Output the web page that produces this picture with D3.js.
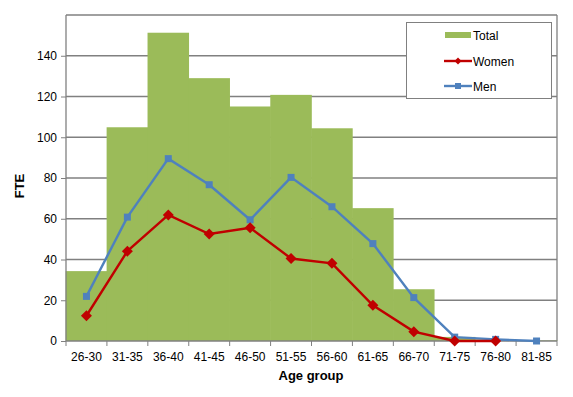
<!DOCTYPE html>
<html>
<head>
<meta charset="utf-8">
<script src="https://cdn.jsdelivr.net/npm/d3@7"></script>
<style>
  html,body{margin:0;padding:0;background:#fff}
  svg{display:block;font-family:'Liberation Sans',Arial,sans-serif}
</style>
</head>
<body>
<svg id="chart" width="573" height="397"></svg>
<script>
const ageGroups = ['26-30','31-35','36-40','41-45','46-50','51-55','56-60','61-65','66-70','71-75','76-80','81-85'];
const totalFte = [34.3, 104.9, 151.3, 129, 115.1, 120.8, 104.4, 65.2, 25.4, 2, 0.8, 0.3];
const womenFte = [12.4, 44.1, 61.9, 52.5, 55.6, 40.5, 38.1, 17.5, 4.6, 0, 0, null];
const menFte = [21.9, 60.8, 89.5, 76.7, 59.5, 80.3, 65.9, 47.8, 21.3, 1.9, 0.8, 0];
const yTicks = [0, 20, 40, 60, 80, 100, 120, 140];

const svg = d3.select('#chart');
const m = { left: 66, right: 557, top: 15, bottom: 341 };

const x = d3.scaleBand().domain(ageGroups).range([m.left, m.right]).padding(0);
const y = d3.scaleLinear().domain([0, 160]).range([m.bottom, m.top]);

// gridlines
svg.append('g').selectAll('line').data(yTicks.slice(1).concat([160])).enter().append('line')
  .attr('x1', m.left).attr('x2', m.right)
  .attr('y1', d => y(d)).attr('y2', d => y(d))
  .attr('stroke', '#808080').attr('stroke-width', 1.3);

// right border
svg.append('line').attr('x1', m.right).attr('x2', m.right).attr('y1', m.top).attr('y2', m.bottom)
  .attr('stroke', '#808080').attr('stroke-width', 1.3);

// total bars (no gap, drawn as one stepped block)
svg.append('g').selectAll('rect').data(totalFte).enter().append('rect')
  .attr('x', (d, i) => x(ageGroups[i]) - 0.3)
  .attr('y', d => y(d))
  .attr('width', x.bandwidth() + 0.6)
  .attr('height', d => y(0) - y(d))
  .attr('fill', '#9BBB59');

// y axis
const yAxis = svg.append('g').attr('transform', `translate(${m.left},0)`)
  .call(d3.axisLeft(y).tickValues(yTicks).tickSize(5).tickPadding(4));
yAxis.select('.domain').attr('stroke', '#808080').attr('stroke-width', 1.3)
  .attr('d', `M0,${m.top}V${m.bottom}`);
yAxis.selectAll('.tick line').attr('stroke', '#808080');
yAxis.selectAll('text').attr('fill', '#000').style('font-size', '12px').style('font-family', "'Liberation Sans',Arial,sans-serif");

// x axis
const xAxis = svg.append('g').attr('transform', `translate(0,${m.bottom})`)
  .call(d3.axisBottom(x).tickSize(0).tickPadding(11));
xAxis.select('.domain').attr('stroke', '#808080').attr('stroke-width', 1.3)
  .attr('d', `M${m.left},0H${m.right}`);
xAxis.selectAll('text').attr('fill', '#000').style('font-size', '12px').style('font-family', "'Liberation Sans',Arial,sans-serif");
svg.append('g').selectAll('line').data(ageGroups.concat(['end'])).enter().append('line')
  .attr('x1', (d, i) => m.left + i * x.bandwidth()).attr('x2', (d, i) => m.left + i * x.bandwidth())
  .attr('y1', m.bottom).attr('y2', m.bottom + 5)
  .attr('stroke', '#808080').attr('stroke-width', 1);

const cx = i => x(ageGroups[i]) + x.bandwidth() / 2;

// men line
const menPts = menFte.map((v, i) => ({ v, i })).filter(p => p.v != null);
svg.append('path').datum(menPts)
  .attr('d', d3.line().x(p => cx(p.i)).y(p => y(p.v)))
  .attr('fill', 'none').attr('stroke', '#4F81BD').attr('stroke-width', 2.4);
svg.append('g').selectAll('rect').data(menPts).enter().append('rect')
  .attr('x', p => cx(p.i) - 3.5).attr('y', p => y(p.v) - 3.5)
  .attr('width', 7).attr('height', 7).attr('fill', '#4F81BD');

// women line
const womenPts = womenFte.map((v, i) => ({ v, i })).filter(p => p.v != null);
svg.append('path').datum(womenPts)
  .attr('d', d3.line().x(p => cx(p.i)).y(p => y(p.v)))
  .attr('fill', 'none').attr('stroke', '#C00000').attr('stroke-width', 2.4);
svg.append('g').selectAll('path').data(womenPts).enter().append('path')
  .attr('transform', p => `translate(${cx(p.i)},${y(p.v)})`)
  .attr('d', 'M0,-5.5L5.5,0L0,5.5L-5.5,0Z').attr('fill', '#C00000');

// axis titles
svg.append('text').attr('transform', 'translate(24,186) rotate(-90)')
  .attr('text-anchor', 'middle').style('font-size', '13px').style('font-weight', 'bold').text('FTE');
svg.append('text').attr('x', 311).attr('y', 380)
  .attr('text-anchor', 'middle').style('font-size', '13px').style('font-weight', 'bold').text('Age group');

// legend
const lg = svg.append('g');
lg.append('rect').attr('x', 406.5).attr('y', 22.5).attr('width', 145).attr('height', 76)
  .attr('fill', '#fff').attr('stroke', '#808080').attr('stroke-width', 1);
lg.append('rect').attr('x', 445).attr('y', 32).attr('width', 26).attr('height', 6).attr('fill', '#9BBB59');
lg.append('text').attr('x', 473).attr('y', 39.5).style('font-size', '12px').text('Total');
lg.append('line').attr('x1', 444).attr('x2', 472).attr('y1', 61).attr('y2', 61)
  .attr('stroke', '#C00000').attr('stroke-width', 2.4);
lg.append('path').attr('transform', 'translate(458,61)').attr('d', 'M0,-3.5L3.5,0L0,3.5L-3.5,0Z').attr('fill', '#C00000');
lg.append('text').attr('x', 473).attr('y', 65.5).style('font-size', '12px').text('Women');
lg.append('line').attr('x1', 444).attr('x2', 472).attr('y1', 86).attr('y2', 86)
  .attr('stroke', '#4F81BD').attr('stroke-width', 2.4);
lg.append('rect').attr('x', 455).attr('y', 83).attr('width', 6).attr('height', 6).attr('fill', '#4F81BD');
lg.append('text').attr('x', 473).attr('y', 90.5).style('font-size', '12px').text('Men');
</script>
</body>
</html>
